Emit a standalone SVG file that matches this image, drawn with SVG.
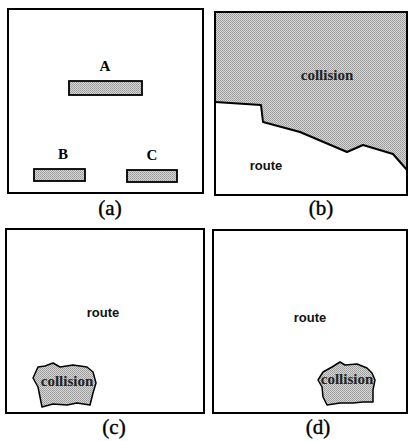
<svg xmlns="http://www.w3.org/2000/svg" width="409" height="441" viewBox="0 0 409 441">
<style>
.frame{fill:#fff;stroke:#000;stroke-width:2}
.bar{fill:url(#dots);stroke:#000;stroke-width:1.8}
.blob{fill:url(#dots);stroke:#000;stroke-width:1.5;stroke-linejoin:round}
.lbl{font-family:"Liberation Serif",serif;font-weight:bold;font-size:15px;text-anchor:middle;fill:#000}
.cap{font-family:"Liberation Serif",serif;font-size:21px;text-anchor:middle;fill:#000;stroke:#000;stroke-width:0.4}
.route{font-family:"Liberation Sans",Arial,sans-serif;font-weight:bold;font-size:13px;text-anchor:middle;fill:#111}
.col{font-family:"Liberation Serif",serif;font-weight:bold;font-size:15px;text-anchor:middle;fill:#222}
</style>
<defs>
<pattern id="dots" width="2" height="2" patternUnits="userSpaceOnUse">
<rect width="2" height="2" fill="#d6d6d6"/>
<rect width="1" height="1" fill="#999"/>
<rect x="1" y="1" width="1" height="1" fill="#a6a6a6"/>
</pattern>
</defs>

<g id="panel-a">
<rect class="frame" x="8" y="9" width="195" height="184"/>
<g id="node-A"><rect class="bar" x="69" y="81" width="73" height="14"/><text class="lbl" x="105" y="71">A</text></g>
<g id="node-B"><rect class="bar" x="34" y="169" width="51" height="12"/><text class="lbl" x="63" y="159">B</text></g>
<g id="node-C"><rect class="bar" x="127" y="170" width="50" height="12"/><text class="lbl" x="152" y="160">C</text></g>
<text class="cap" x="110" y="215">(a)</text>
</g>

<g id="panel-b">
<rect class="frame" x="215" y="12" width="192" height="183"/>
<path d="M215,12 L407,12 L407,170 L393,154 L363,145 L347,152 L300,132 L263,122 L261,105 L215,102 Z" fill="url(#dots)" stroke="none"/>
<path d="M215,102 L261,105 L263,122 L300,132 L347,152 L363,145 L393,154 L407,170" fill="none" stroke="#000" stroke-width="2" stroke-linejoin="round"/>
<rect x="215" y="12" width="192" height="183" fill="none" stroke="#000" stroke-width="2"/>
<text class="col" x="327" y="80">collision</text>
<text class="route" x="266" y="170">route</text>
<text class="cap" x="321" y="215">(b)</text>
</g>

<g id="panel-c">
<rect class="frame" x="6" y="229" width="198" height="184"/>
<text class="route" x="103" y="317">route</text>
<path class="blob" d="M33,378 L38,367 L45,366 L53,363 L60,367 L73,365 L87,367 L93,372 L96,383 L93,393 L90,405 L77,403 L67,405 L53,404 L42,407 L40,397 L38,387 Z"/>
<text class="col" x="67" y="386">collision</text>
<text class="cap" x="114" y="434">(c)</text>
</g>

<g id="panel-d">
<rect class="frame" x="213" y="230" width="194" height="183"/>
<text class="route" x="310" y="322">route</text>
<path class="blob" d="M318,380 L323,372 L332,367 L340,362 L345,365 L357,364 L367,368 L372,373 L375,380 L373,390 L373,402 L363,402 L353,403 L340,403 L327,405 L323,397 L322,387 Z"/>
<text class="col" x="347" y="384">collision</text>
<text class="cap" x="318" y="434">(d)</text>
</g>
</svg>
